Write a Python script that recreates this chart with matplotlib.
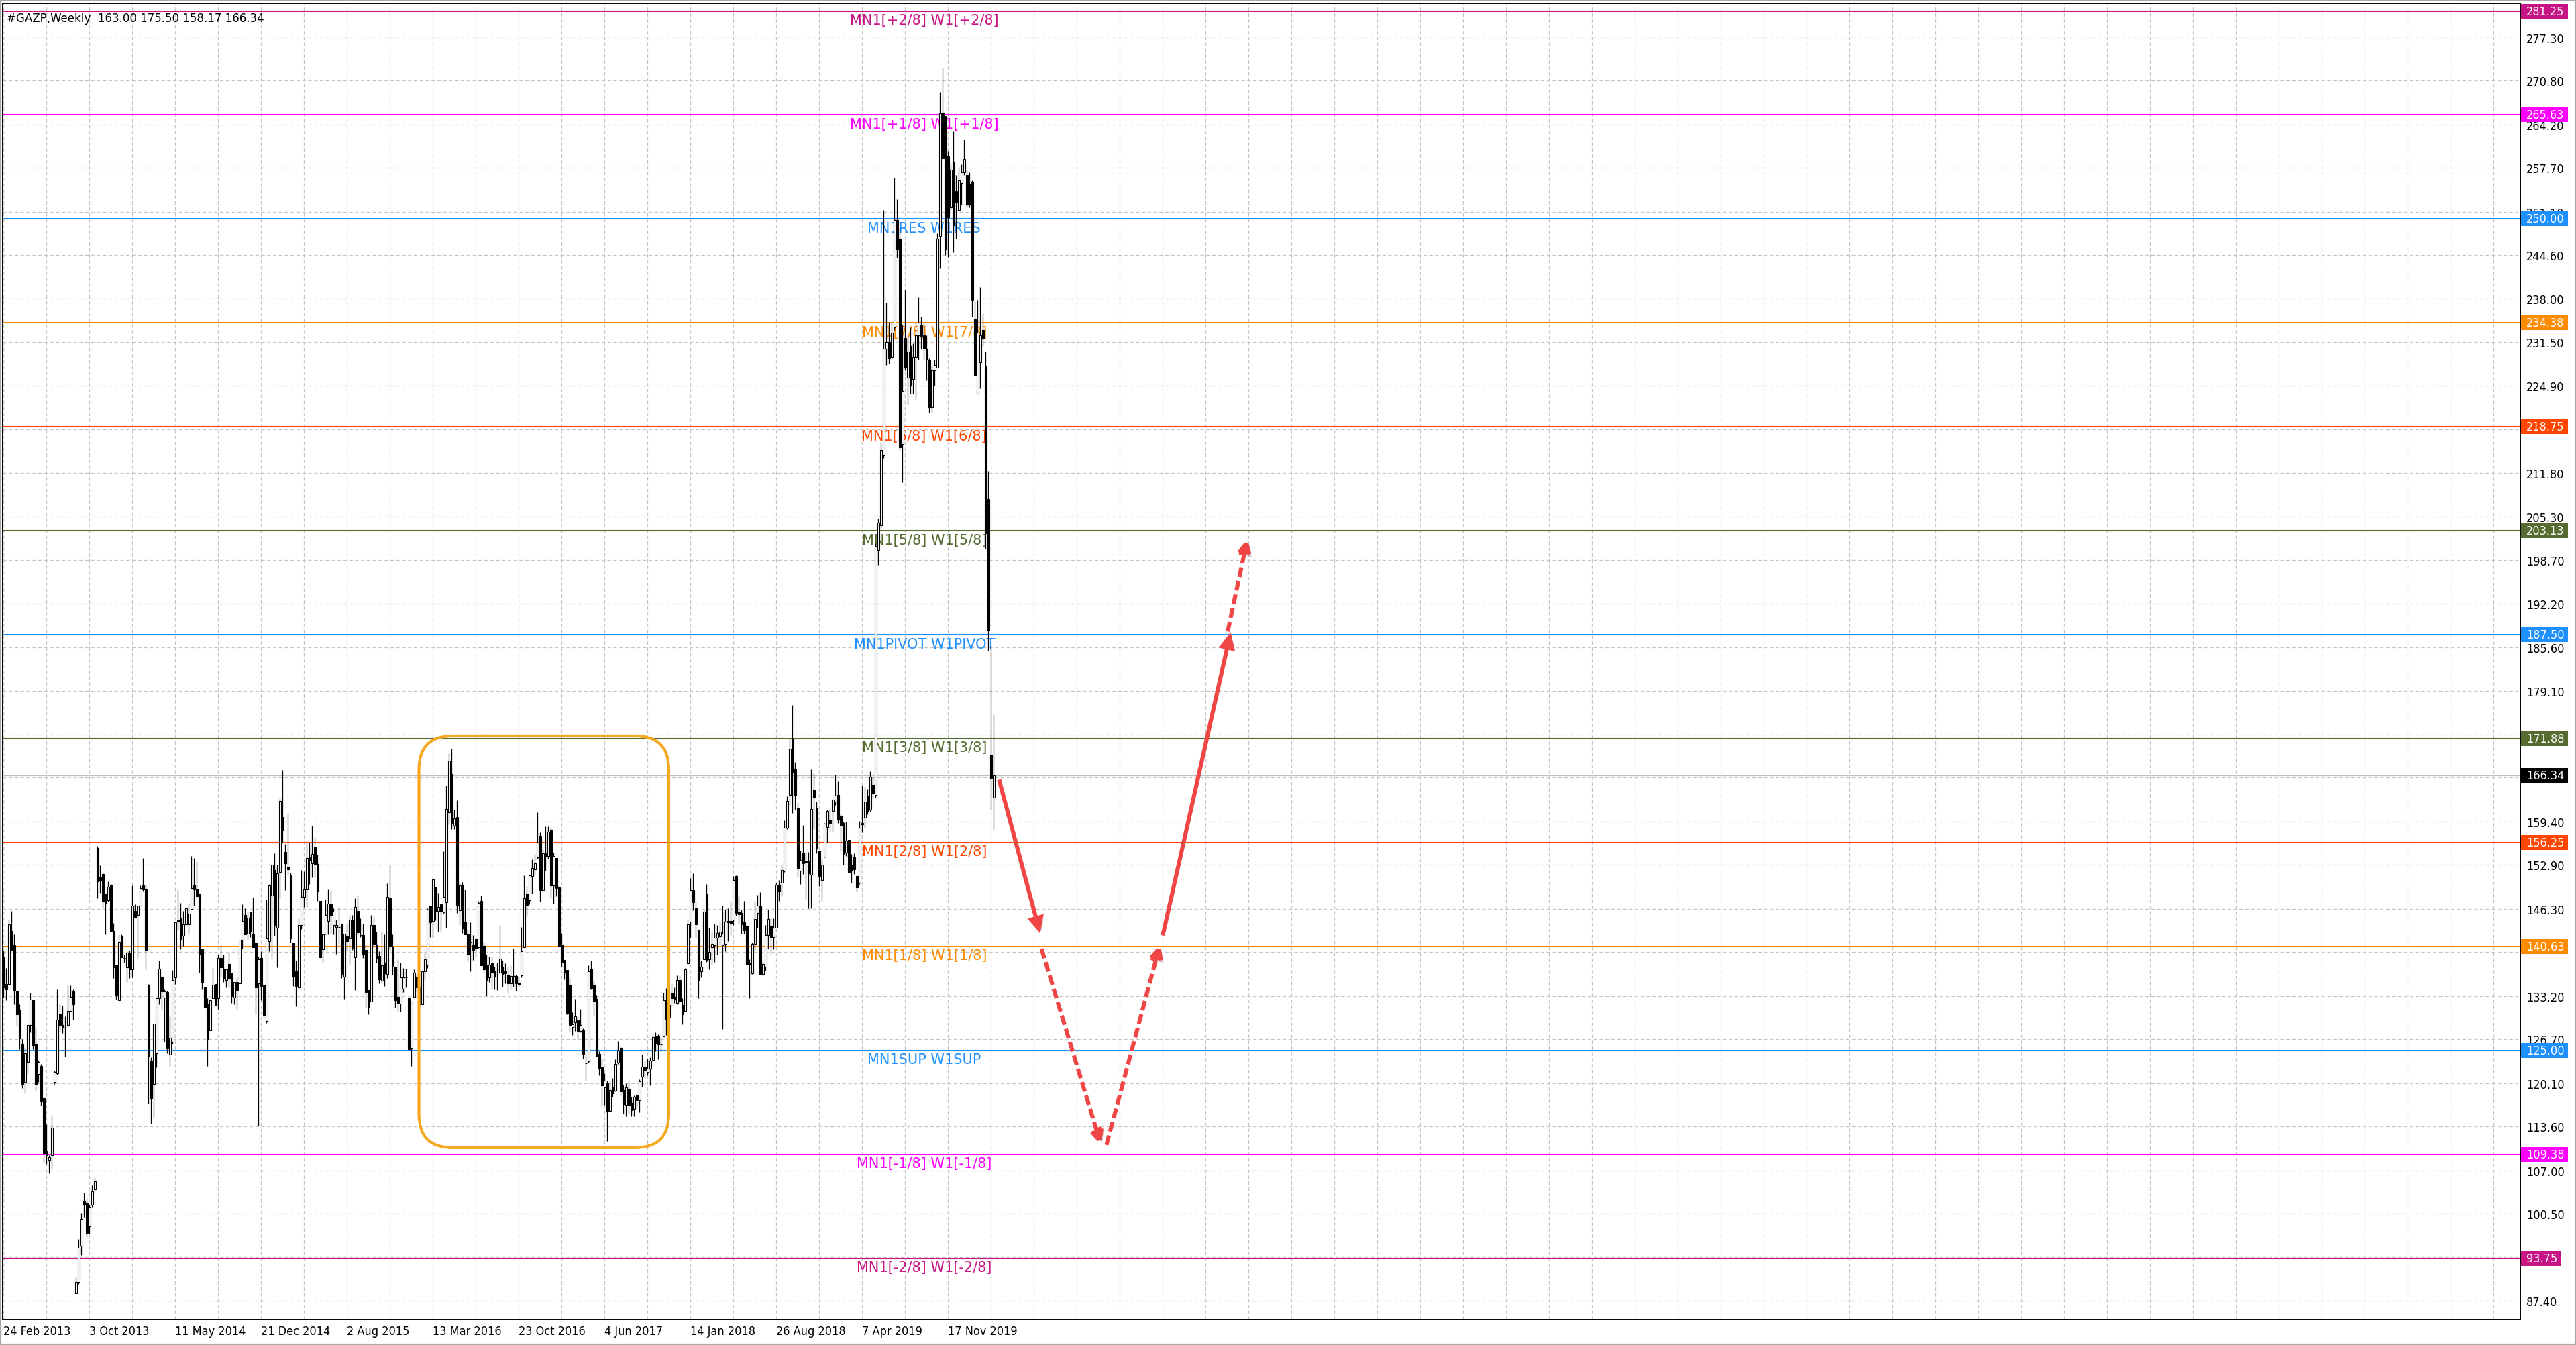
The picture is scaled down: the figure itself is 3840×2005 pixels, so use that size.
import numpy as np
import matplotlib
matplotlib.use("Agg")
import matplotlib.pyplot as plt
import matplotlib.transforms as mtransforms
import matplotlib.font_manager as fm
import matplotlib.patheffects as pe
from matplotlib.patches import Rectangle, FancyBboxPatch, FancyArrowPatch
from matplotlib.patches import BoxStyle

# ---------------- data (weekly bars, index 0 = 24 Feb 2013) ----------------
opens = [
    139, 135, 135, 143, 140.8, 134, 131.2, 126, 120.3, 123.3,
    128.8, 132.6, 126, 121.5, 122.7, 117.8, 109.9, 108.6, 109.3, 120.3,
    121.6, 130.4, 128.8, 128.4, 128.8, 131, 133.9, 88.5, 90.2, 95.7,
    102.3, 102.1, 98.6, 101.8, 104.1, 155.5, 151, 151.5, 148.6, 147.6,
    149.9, 143, 137.8, 132.6, 142.2, 138.9, 137.5, 139.7, 137.2, 146,
    145.4, 146.8, 149.8, 149.3, 134.9, 123.5, 120, 124.6, 132.9, 136.1,
    133, 133.8, 124.4, 126.3, 136, 144.6, 144.9, 142.2, 144, 144,
    146.3, 149.9, 149.3, 148.5, 140.2, 134.5, 132, 128, 132.9, 135,
    132.9, 138.9, 137.3, 135.6, 138, 136.6, 133, 135.3, 135.1, 141.6,
    145.4, 142.6, 145.8, 142.4, 141.2, 135.1, 138.9, 134.9, 129.4, 141.4,
    148.3, 152.1, 143.5, 151.8, 160.1, 154.9, 152.6, 151.3, 141.1, 137,
    134.5, 143.9, 148.1, 149.3, 154.1, 153.1, 155.6, 153, 147.5, 140.2,
    142.6, 144.5, 147.1, 143.9, 143.6, 143.6, 144.1, 136.1, 142.1, 141.8,
    144.6, 139, 146, 142.3, 142.3, 140.1, 134.1, 132.4, 143.9, 140.8,
    139.2, 135.5, 138.2, 136.5, 147.9, 140.5, 137.6, 133.1, 132.1, 134.3,
    136, 133, 125.3, 133.1, 136.1, 134.5, 132, 136.9, 137.9, 146.8,
    144.5, 149.5, 146, 147, 145.8, 147.3, 160.8, 166.5, 158.8, 160.1,
    146.1, 149.8, 144.4, 142.4, 141.3, 140.9, 141.7, 140.5, 147.5, 140.7,
    137.8, 136, 138.1, 136.9, 135.5, 136.7, 137.6, 136.9, 136.4, 135.1,
    136.2, 136.2, 135.2, 136.3, 140.5, 148.6, 147.6, 151.2, 152.2, 154,
    157.3, 149.1, 154.7, 154.2, 158.2, 149.8, 153.9, 149.5, 140.9, 138.6,
    137.1, 134.9, 128.5, 129.2, 129.5, 127.9, 128, 123.1, 123.4, 137.3,
    134.9, 132.8, 124.5, 122.5, 119.5, 120.1, 115.9, 119.6, 119, 123.2,
    125.4, 119.1, 116.8, 119.3, 117.1, 116.2, 118.2, 117.5, 121.1, 122.5,
    121.8, 122.3, 123.6, 127.2, 127.2, 125.9, 127.1, 132.6, 131.9, 133.7,
    133.1, 132.2, 135.6, 131.9, 131, 138.1, 144.4, 149.1, 146.4, 143.2,
    136.9, 138.7, 148.5, 138.7, 140.5, 140.8, 141.9, 142.1, 140.8, 141,
    144.3, 144.5, 144.7, 151.2, 145.9, 145.7, 144.4, 143.8, 138.2, 136.6,
    141, 145.7, 146.8, 136.5, 137.6, 142.3, 143.8, 142, 143.5, 149.9,
    150.2, 152, 158.5, 163.4, 171.8, 167.4, 161.4, 152, 154.8, 153.3,
    153.4, 151.4, 164.1, 161.4, 155.1, 150.6, 154.1, 158.6, 159.7, 161,
    162.4, 163.4, 160.3, 159.2, 154.8, 156.7, 152.9, 154.1, 151.2, 150.2,
    159, 160, 163.2, 161.2, 164.9, 163.4, 200.2, 204, 214.4, 230.5,
    231.5, 229.3, 233.7, 249.8, 247, 216.2, 232.1, 226.1, 230.9, 225.9,
    229.3, 232.5, 234.1, 232.5, 230.5, 228.9, 221.7, 227.3, 227.7, 247.4,
    266, 265.5, 259.4, 251.8, 258.5, 254.2, 251.4, 255.4, 257, 256.6,
    255.3, 255.6, 234.9, 223.7, 228.5, 233.3, 227.9, 207.9, 169.5, 163.0,
]
highs = [
    140, 137.4, 144.8, 146, 142.4, 134, 132, 126.7, 125.5, 128.8,
    133.7, 132.6, 128.5, 123.5, 123, 118, 113.9, 109.3, 115.3, 122,
    134.2, 132, 131.8, 130.1, 134.8, 134.8, 134.2, 91, 96.7, 100.6,
    103.6, 102.8, 101.8, 104.7, 105.9, 155.8, 152.8, 151.8, 148.6, 150.4,
    150.2, 144.2, 137.8, 142.4, 142.4, 139.4, 139.7, 140, 149.8, 147,
    146.8, 149.8, 153.9, 149.9, 135, 124, 129, 132.9, 138.5, 136.1,
    134.2, 134, 130.1, 137.1, 144.3, 149.2, 147.2, 146, 146.4, 147.1,
    154.2, 153.9, 153.4, 148.5, 140.2, 134.5, 132.9, 132.6, 137.5, 135,
    139.4, 140.8, 139.4, 137.2, 139.7, 136.6, 135.3, 136.1, 141.6, 147,
    146.4, 145.8, 145.8, 148, 141.2, 139.1, 139.9, 134.9, 147.7, 150,
    152.9, 154.7, 152.9, 162.9, 167.2, 156.1, 160.7, 151.7, 141.1, 138.5,
    144.9, 152.1, 151.9, 156.3, 156.3, 158.8, 157.1, 154.4, 147.5, 142.4,
    147.7, 149.3, 149.1, 146.4, 144.7, 146.6, 144.1, 142.6, 144.1, 145.4,
    145.4, 147.9, 148.3, 144.9, 144.1, 140.8, 134.1, 145.4, 145.2, 142.9,
    139.9, 142.9, 142.4, 150.1, 152.9, 142.5, 137.6, 138.7, 138.2, 137.4,
    137.3, 133, 132.4, 137.2, 136.4, 135, 136.9, 139.9, 146.4, 146.8,
    150.9, 149.5, 148.7, 147, 155, 164.8, 169.8, 170.4, 161.2, 162.6,
    150.2, 150.3, 149.2, 143.2, 144.3, 142.3, 141.8, 147.5, 148.3, 141.2,
    139.4, 139.1, 139, 137.6, 138.2, 143.9, 138.5, 138.1, 137.6, 137.8,
    140.3, 136.4, 136, 143.6, 151.3, 149.7, 151.3, 153.7, 154.6, 160.8,
    157.8, 155.4, 158.7, 158.7, 158.5, 154.8, 153.9, 149.8, 142.7, 138.6,
    137.1, 136, 130.8, 132.8, 130.1, 131.3, 128.3, 124.5, 137.8, 138.5,
    135.5, 133.4, 124.9, 123.8, 121.6, 120.5, 120.5, 120.9, 123.7, 126.4,
    125.6, 119.9, 120.1, 120.5, 118, 118.2, 118.7, 120.7, 124.4, 123.4,
    123.8, 124, 127.4, 127.7, 127.4, 126.8, 133.7, 134.4, 134, 135.1,
    134.5, 136.3, 136.3, 132.9, 137.4, 144.8, 150.9, 151.6, 147.3, 143.2,
    138.5, 146.2, 150, 143.5, 143, 144.1, 143.9, 144.4, 146.8, 146.2,
    146.4, 147.3, 151.2, 151.3, 148.2, 146.2, 147.5, 143.9, 138.7, 141.2,
    147.5, 148.4, 148.8, 138.3, 143.9, 146.2, 145, 144.9, 150.2, 150.6,
    152.9, 159.6, 163.2, 172, 176.9, 168.4, 162.3, 155.1, 158.9, 154.9,
    154.9, 167.3, 166.6, 162.4, 155.1, 153.8, 159.2, 161.2, 161.4, 162.8,
    166.4, 165.5, 160.5, 159.4, 159.4, 156.7, 154.5, 154.7, 151.3, 159.5,
    164.8, 164.6, 164.3, 167, 166.1, 201.2, 205, 216.5, 251.4, 237.4,
    234.5, 234.5, 256.2, 253, 248.6, 234.1, 239.4, 232.5, 233.7, 231.3,
    234.5, 238.2, 235.3, 234.5, 232.5, 229.1, 228.1, 228.9, 247.8, 269.1,
    272.7, 265.5, 260.2, 258.2, 263.1, 256.6, 257.8, 258.2, 261.9, 257.4,
    257, 255.8, 237.6, 237.8, 239.8, 235.8, 230.1, 212.1, 185.9, 175.5,
]
lows = [
    133, 132.6, 135, 140, 132, 128.7, 125.2, 119.4, 118.6, 121.6,
    127.7, 125.2, 119, 120.3, 116.7, 108.2, 108, 106.6, 107.4, 120,
    121.4, 127.9, 127.6, 124.1, 128.5, 131, 129.6, 88.5, 89.9, 94.3,
    100, 97, 97.5, 101.4, 103.8, 147.9, 148.7, 146.4, 142.4, 147.4,
    143, 135.9, 132.7, 132.6, 139, 138.2, 135.3, 135.9, 136, 145,
    138.9, 146.8, 149, 137.2, 117, 114, 114.8, 122.5, 132, 131.2,
    126.3, 124.6, 122.7, 126, 135, 143.2, 140.2, 140.7, 144, 142.4,
    146.3, 146.8, 148, 136.7, 134.2, 131.5, 122.7, 128, 132.9, 131.8,
    131.2, 136.1, 135.3, 134.5, 134.5, 132.2, 132, 131.3, 135.1, 140.3,
    142.4, 141.6, 142, 140.5, 130.5, 113.7, 132.6, 129.9, 129.1, 139.9,
    138.7, 142.2, 137.5, 147.9, 156.3, 149.1, 151.4, 141.2, 134.7, 131.7,
    134.3, 143.3, 146.6, 146.6, 150, 151, 151, 147.5, 139, 138.2,
    142.4, 142.4, 142.6, 142.4, 139.5, 140.8, 135.9, 132.8, 139.9, 137.9,
    140.1, 134.1, 142.4, 142, 138.9, 131.5, 130.4, 132.4, 140.5, 138.2,
    135.1, 135.1, 134.7, 135.9, 140, 136.4, 131.5, 130.9, 130.9, 133.8,
    134.5, 125.2, 122.7, 133, 133.8, 131, 132, 135.7, 137.4, 142,
    141.9, 144.6, 142.9, 143, 145.6, 143.5, 159, 158.3, 158.3, 145.7,
    143.9, 142.7, 142.4, 138.4, 136.9, 138.6, 139, 140.4, 137.8, 136.7,
    133.3, 135.3, 134.2, 134.2, 134.1, 136.4, 134.6, 135.1, 133.6, 134.2,
    134.6, 134, 134.6, 136, 140.5, 145.2, 147, 148.6, 151.5, 153.8,
    147.4, 149.1, 152, 153.8, 147.9, 147.1, 148.2, 140.6, 137.6, 135.7,
    130.4, 127.8, 127.3, 127.9, 126.7, 127.7, 123.8, 120.5, 123.2, 134.2,
    130.1, 124.1, 121.3, 116.6, 116.8, 111.4, 115.7, 118, 118.9, 123,
    118.1, 115.5, 115.1, 115.5, 115.1, 115.1, 116.4, 115.7, 119.6, 120.9,
    121.3, 119.8, 123.6, 124.9, 123.7, 124.9, 127.1, 127.3, 128, 131.8,
    132.2, 132, 132.2, 128.9, 130.9, 137.9, 141.9, 146.1, 141.9, 132.9,
    136, 138.7, 138.3, 137.2, 137.9, 138.3, 139.4, 140.8, 128.2, 139.9,
    141.4, 142.3, 143.9, 145.3, 144.1, 142.6, 142.6, 137.9, 132.9, 136.5,
    140.1, 143.5, 136.5, 136.3, 137, 140.3, 139.5, 140.2, 143.5, 147.5,
    148.2, 151.8, 158.3, 161.9, 160.7, 161.2, 151.1, 150, 151.5, 147.7,
    146.4, 146.4, 158.3, 154.7, 149.7, 147.5, 154, 156.3, 157.8, 157.8,
    161.9, 159.2, 155.1, 152.9, 154.2, 151.6, 150.2, 151.5, 148.9, 150,
    157.8, 158.5, 160.5, 160.9, 163, 163, 198, 203.6, 214, 228.1,
    228.3, 228.9, 233.3, 244.2, 215.3, 210.4, 227.3, 222.1, 223.7, 223.7,
    222.9, 228.9, 230.5, 228.9, 225.7, 220.9, 220.9, 224.9, 227.7, 242.6,
    259.1, 244.6, 244.3, 251.4, 245, 247, 251.4, 252.2, 256.6, 251.8,
    251.8, 235.3, 226.5, 223.7, 224.5, 230.9, 200.4, 185.1, 161.1, 158.17,
]
closes = [
    134.5, 134.2, 144, 140, 134, 130.4, 126.8, 120, 124.6, 128.8,
    132.7, 125.8, 120, 123.3, 117.3, 109.6, 109.3, 109, 113.4, 121.8,
    129.6, 128.8, 128.5, 128.4, 131, 133.1, 132, 90.2, 95.4, 99.7,
    101.8, 97.6, 101.4, 103.8, 105.3, 150.4, 150.5, 147.4, 147.1, 149.6,
    143, 137.5, 133.4, 141.3, 139, 138.9, 139.7, 137.2, 146.8, 145,
    146.8, 149.4, 149.3, 140, 124.1, 117.8, 129, 132.9, 137.3, 133.9,
    133.9, 125.3, 126.9, 135.6, 144.3, 144.4, 141.6, 144, 146.4, 145.6,
    149.4, 149.3, 148.2, 139.4, 135.2, 131.5, 126.6, 132.6, 134.9, 131.8,
    138.9, 137.5, 135.9, 137.2, 135.8, 133.2, 135.3, 134.1, 141.6, 144.5,
    142.4, 145, 142.9, 140.5, 134.5, 138.7, 134.7, 130.3, 141.8, 149.8,
    152.9, 143.9, 151.6, 162.5, 158.1, 153.1, 152.2, 141.8, 136.1, 134.7,
    143.9, 148.1, 149.3, 153.9, 153.5, 154.5, 153, 148.9, 139, 142.4,
    145.4, 147.1, 145.3, 145.9, 143.9, 143.6, 136.5, 142.6, 141.4, 144.7,
    140.3, 146.6, 142.8, 142.2, 139.4, 133.8, 131.5, 143.9, 141, 138.9,
    135.7, 137.8, 136.6, 148.1, 140.6, 137.7, 132.6, 132.2, 136, 136,
    136, 125.2, 132.4, 136.7, 134.5, 132, 136.9, 138.7, 146.2, 144.3,
    150.7, 145.9, 146.6, 145.9, 148.1, 161.3, 168.6, 159.2, 159.9, 146.8,
    149.8, 143.4, 142.4, 139.4, 141.2, 140, 140.3, 147.2, 137.8, 137.2,
    135.5, 137.9, 136.7, 136.2, 135.5, 138.8, 136.4, 136.6, 135.1, 136.2,
    136.2, 135.1, 134.9, 139.9, 147.9, 146.9, 151.3, 152.4, 153.1, 156.3,
    149.1, 154.7, 154.2, 157.9, 149.8, 154.2, 149.4, 140.6, 138.2, 136.7,
    130.6, 128.8, 128.9, 130.1, 127.9, 128.8, 124.5, 123.1, 136.9, 134.4,
    132.5, 124.1, 122.3, 119.8, 120.5, 115.9, 119.1, 118.6, 123, 125,
    118.9, 116.9, 119.5, 116.8, 116, 118, 117.5, 120.4, 122.6, 122,
    122.3, 123.5, 127, 126.1, 125.9, 125.9, 132.6, 129.7, 130, 132.9,
    132.7, 135.6, 132.5, 130.4, 137.2, 144, 149.1, 147.3, 144, 135.6,
    137.6, 145.9, 138.5, 139.8, 141, 141.9, 142.7, 142.9, 142.6, 144.4,
    144.5, 144.1, 150.6, 145.7, 145.5, 144, 143.1, 137.9, 137.9, 141,
    144.8, 146.8, 136.5, 138, 142.3, 144.8, 142, 143.5, 149.9, 148.9,
    152.1, 158.5, 162.5, 170.4, 166.9, 163.3, 152.4, 153.6, 153.1, 153.4,
    151.6, 161.3, 163, 155.4, 151.2, 152.9, 159.1, 161, 159.2, 162.7,
    163.3, 159.7, 158.9, 154.6, 156.6, 151.8, 152, 152.2, 149.5, 158.5,
    159.2, 162.4, 161, 166.1, 163.6, 200.8, 204.4, 215.3, 230.5, 231.5,
    229.1, 232.9, 249.8, 245.4, 215.7, 224.1, 227.7, 230.1, 224.9, 229.3,
    232.5, 234.4, 232.3, 230.5, 228.9, 221.7, 227.3, 228.1, 247, 265.9,
    259.1, 245.4, 250.2, 257.4, 249, 252.6, 255.8, 257, 259, 252.2,
    252.2, 237.8, 226.5, 232.9, 232.5, 232, 202.8, 188.1, 165.9, 166.34,
]

# Murrey math levels
level_values = [281.25, 265.63, 250.00, 234.38, 218.75, 203.13, 187.50,
                171.88, 156.25, 140.63, 125.00, 109.38, 93.75]
level_names = ["MN1[+2/8] W1[+2/8]", "MN1[+1/8] W1[+1/8]", "MN1RES W1RES",
               "MN1[7/8] W1[7/8]", "MN1[6/8] W1[6/8]", "MN1[5/8] W1[5/8]",
               "MN1PIVOT W1PIVOT", "MN1[3/8] W1[3/8]", "MN1[2/8] W1[2/8]",
               "MN1[1/8] W1[1/8]", "MN1SUP W1SUP", "MN1[-1/8] W1[-1/8]",
               "MN1[-2/8] W1[-2/8]"]
level_colors = ["#C71585", "#FF00FF", "#1E90FF", "#FF8C00", "#FF4500",
                "#556B2F", "#1E90FF", "#556B2F", "#FF4500", "#FF8C00",
                "#1E90FF", "#FF00FF", "#C71585"]
last_price = 166.34

# axis labels (labels fully covered by the price tags are left blank)
price_ticks = [87.40, 93.90, 100.50, 107.00, 113.60, 120.10, 126.70, 133.20,
               139.80, 146.30, 152.90, 159.40, 166.00, 172.50, 179.10, 185.60,
               192.20, 198.70, 205.30, 211.80, 218.40, 224.90, 231.50, 238.00,
               244.60, 251.10, 257.70, 264.20, 270.80, 277.30]
hidden_price_ticks = [139.80, 166.00, 218.40]
date_tick_bars = [0, 32, 64, 96, 128, 160, 192, 224, 256, 288, 320, 352]
date_tick_labels = ["24 Feb 2013", "3 Oct 2013", "11 May 2014", "21 Dec 2014",
                    "2 Aug 2015", "13 Mar 2016", "23 Oct 2016", "4 Jun 2017",
                    "14 Jan 2018", "26 Aug 2018", "7 Apr 2019", "17 Nov 2019"]
title_text = "#GAZP,Weekly  163.00 175.50 158.17 166.34"

# annotations: highlighted range box and forecast arrows (bar index, price)
box_bars = (154.8, 247.9)
box_prices = (110.4, 172.3)
arrow_segments = [
    (371.0, 165.7, 386.3, 142.6, "solid"),
    (386.8, 140.3, 409.0, 110.8, "dashed"),
    (411.0, 110.8, 431.0, 141.0, "dashed"),
    (432.0, 142.3, 457.3, 187.9, "solid"),
    (456.2, 188.0, 463.6, 202.0, "dashed"),
]

# ---------------- fonts ----------------
available = {f.name for f in fm.fontManager.ttflist}
cond_dejavu = any(f.name == "DejaVu Sans" and str(f.stretch) in ("condensed", "semi-condensed")
                  for f in fm.fontManager.ttflist)
if "Liberation Sans Narrow" in available:
    NARROW, ns, STRETCH = "Liberation Sans Narrow", 1.0, "normal"
elif cond_dejavu:
    NARROW, ns, STRETCH = "DejaVu Sans", 0.82, "condensed"
else:
    NARROW, ns, STRETCH = "DejaVu Sans", 0.75, "normal"
FAM = [NARROW, "DejaVu Sans"]

# ---------------- figure ----------------
W, H = 3840, 2006
DPI = 200
fig = plt.figure(figsize=(W / DPI, H / DPI), dpi=DPI, facecolor="white")
ax_l, ax_r, ax_t, ax_b = 4, 3757, 6, 1968
ax = fig.add_axes([ax_l / W, (H - ax_b) / H, (ax_r - ax_l) / W, (ax_b - ax_t) / H])
ax.set_facecolor("white")

n = len(closes)
x = np.arange(n)
o = np.array(opens, float)
h = np.array(highs, float)
l = np.array(lows, float)
c = np.array(closes, float)

ax.set_xlim(-0.325, 937.9)
ax.set_ylim(84.57, 282.41)

# grid and ticks
ax.set_axisbelow(True)
ax.set_xticks(np.arange(0, 940, 16), minor=True)
ax.set_xticks(date_tick_bars)
ax.set_xticklabels(date_tick_labels, ha="left", fontsize=7.9 * ns, family=FAM,
                   fontstretch=STRETCH)
ax.set_yticks(price_ticks)
ax.set_yticklabels(["" if v in hidden_price_ticks else f"{v:.2f}" for v in price_ticks],
                   fontsize=7.9 * ns, family=FAM, fontstretch=STRETCH)
ax.yaxis.tick_right()
ax.tick_params(axis="y", which="both", length=0, pad=3.2, labelcolor="black")
ax.tick_params(axis="x", which="both", length=0, pad=3.0, labelcolor="black")
for lab in ax.get_yticklabels():
    lab.set_horizontalalignment("left")
gkw = dict(color="#C4C4C4", linewidth=0.45, linestyle=(0, (4, 3)))
ax.grid(True, which="both", axis="x", **gkw)
ax.grid(True, which="major", axis="y", **gkw)

for sp in ax.spines.values():
    sp.set_color("black")
    sp.set_linewidth(0.7)

# levels
for val, name, col in zip(level_values, level_names, level_colors):
    ax.axhline(val, color=col, linewidth=0.75, zorder=1.5)
    ax.annotate(name, xy=(343.1, val), xytext=(0, -1.2), textcoords="offset points",
                ha="center", va="top", color=col, fontsize=7.5,
                family="DejaVu Sans", zorder=2.5)

# current price line
ax.axhline(last_price, color="#BEBEBE", linewidth=0.45, zorder=1.6)

# candles
up = c >= o
ax.vlines(x, l, h, color="black", linewidth=0.45, zorder=3)
body_bottom = np.minimum(o, c)
body_h = np.abs(c - o)
ax.bar(x[up], body_h[up], bottom=body_bottom[up], width=0.62,
       color="white", edgecolor="black", linewidth=0.4, zorder=4)
ax.bar(x[~up], body_h[~up], bottom=body_bottom[~up], width=0.62,
       color="black", edgecolor="black", linewidth=0.4, zorder=4)

# rounded box
px_per_bar = (ax_r - ax_l) / (937.9 + 0.325)
px_per_unit = (ax_b - ax_t) / (282.41 - 84.57)
r_bars = 50 / px_per_bar
aspect = (50 / px_per_unit) / r_bars
box = FancyBboxPatch((box_bars[0], box_prices[0]), box_bars[1] - box_bars[0],
                     box_prices[1] - box_prices[0],
                     boxstyle=BoxStyle.Round(pad=0, rounding_size=r_bars),
                     mutation_aspect=aspect, fill=False, edgecolor="#F5A81F",
                     linewidth=1.5, zorder=5)
ax.add_patch(box)

# arrows
shadow = [pe.SimplePatchShadow(offset=(1.3, -1.3), alpha=0.2), pe.Normal()]
for x0, y0, x1, y1, style in arrow_segments:
    ls = "-" if style == "solid" else (0, (2.4, 1.0))
    arr = FancyArrowPatch((x0, y0), (x1, y1),
                          arrowstyle="-|>,head_length=0.42,head_width=0.2",
                          mutation_scale=14, linewidth=2.2, linestyle=ls,
                          color="#F04545", shrinkA=0, shrinkB=0, zorder=6,
                          capstyle="butt", joinstyle="miter")
    arr.set_path_effects(shadow)
    ax.add_patch(arr)

# right-side price boxes
trans = mtransforms.blended_transform_factory(ax.transAxes, ax.transData)
axw = ax_r - ax_l
box_h = 22 / px_per_unit
tags = list(zip(level_values, level_colors)) + [(last_price, "black")]
for val, col in tags:
    txt = f"{val:.2f}"
    wpx = 10 * len(txt) + 10
    ax.add_patch(Rectangle((1 + 1.5 / axw, val - box_h / 2), wpx / axw, box_h,
                           transform=trans, facecolor=col, edgecolor="none",
                           clip_on=False, zorder=10))
    ax.text(1 + 9 / axw, val, txt, transform=trans, color="white", ha="left",
            va="center", fontsize=7.9 * ns, family=FAM, fontstretch=STRETCH,
            clip_on=False, zorder=11)

# title
fig.text(10 / W, 1 - 19 / H, title_text, ha="left", va="top",
         fontsize=8.1 * ns, family=FAM, fontstretch=STRETCH, color="black")

# window border
fig.add_artist(Rectangle((0, 0), 1, 1, transform=fig.transFigure, fill=False,
                         edgecolor="#A8A8A8", linewidth=1.5))

fig.savefig("out.png", dpi=DPI, facecolor="white")
